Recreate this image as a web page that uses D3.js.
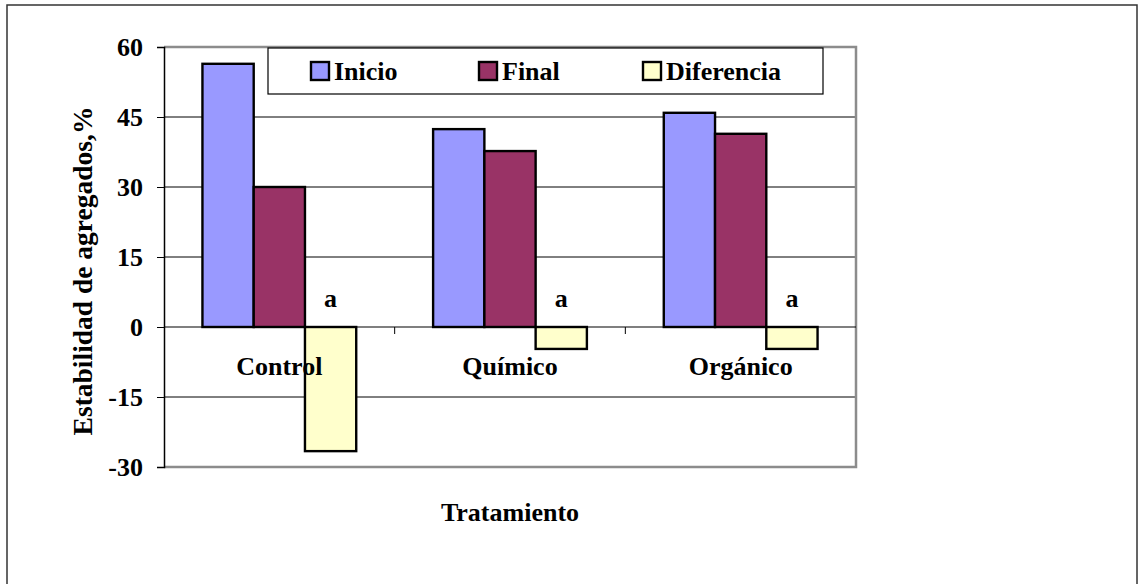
<!DOCTYPE html>
<html><head><meta charset="utf-8">
<script src="https://cdn.jsdelivr.net/npm/d3@7"></script>
<style>body{margin:0;background:#fff}svg{display:block}svg text{font-family:"Liberation Serif","Times New Roman",serif !important;font-weight:bold;fill:#000}</style>
</head><body>
<script>
const categories = ["Control", "Químico", "Orgánico"];
const seriesNames = ["Inicio", "Final", "Diferencia"];
const inicio = [56.4, 42.4, 45.9];
const finalV = [30.0, 37.7, 41.4];
const diferencia = [-26.6, -4.7, -4.7];
const letters = ["a", "a", "a"];
const yTicks = [-30, -15, 0, 15, 30, 45, 60];
const colors = ["#9999FF", "#993366", "#FFFFCC"];

const SERIF = "Liberation Serif";
const W = 1138, H = 584;
const svg = d3.select("body").append("svg").attr("width", W).attr("height", H);
svg.append("rect").attr("x", 7).attr("y", 5).attr("width", 1130).attr("height", 600)
  .attr("fill", "#fff").attr("stroke", "#333").attr("stroke-width", 1.5);

const L = 164, R = 856, T = 47, B = 467;
const y = d3.scaleLinear().domain([-30, 60]).range([B, T]);
const x0 = d3.scaleBand().domain(categories).range([L, R]);
const x1 = d3.scaleBand().domain(seriesNames).range([0, x0.bandwidth()]).paddingInner(0).paddingOuter(0.75);

// gridlines
svg.append("g").selectAll("line").data(yTicks.filter(d => d !== -30 && d !== 60 && d !== 0)).join("line")
  .attr("x1", L).attr("x2", R).attr("y1", d => y(d)).attr("y2", d => y(d)).attr("stroke", "#000").attr("stroke-width", 1);

// plot border (gray)
svg.append("path").attr("d", `M${L},${T}H${R}V${B}H${L}`).attr("fill", "none").attr("stroke", "#8c8c8c").attr("stroke-width", 2.5);

const data = [inicio, finalV, diferencia];
const g = svg.append("g");
seriesNames.forEach((s, si) => {
  g.selectAll(null).data(categories).join("rect")
    .attr("x", c => x0(c) + x1(s))
    .attr("width", x1.bandwidth())
    .attr("y", (c, i) => y(Math.max(0, data[si][i])))
    .attr("height", (c, i) => Math.abs(y(data[si][i]) - y(0)))
    .attr("fill", colors[si]).attr("stroke", "#000").attr("stroke-width", 2.4);
});

// zero axis
svg.append("line").attr("x1", L).attr("x2", R).attr("y1", y(0)).attr("y2", y(0)).attr("stroke", "#000").attr("stroke-width", 1.2);
// category ticks
svg.append("g").selectAll("line").data(categories.slice(1)).join("line")
  .attr("x1", c => x0(c)).attr("x2", c => x0(c)).attr("y1", y(0)).attr("y2", y(0) + 7).attr("stroke", "#000");

// y axis
const yAxis = d3.axisLeft(y).tickValues(yTicks).tickSize(7).tickPadding(14).tickFormat(d => String(d));
const ya = svg.append("g").attr("transform", `translate(${L},0)`).call(yAxis);
ya.attr("font-family", SERIF);
ya.select(".domain").attr("stroke", "#000").attr("stroke-width", 1.5);
ya.selectAll(".tick line").attr("stroke", "#000");
ya.selectAll(".tick text").attr("font-size", 26).attr("font-family", SERIF).attr("font-weight", "bold").attr("fill", "#000").attr("dy", "0.34em");

// letters
svg.append("g").selectAll("text").data(categories).join("text")
  .attr("x", c => x0(c) + x1("Diferencia") + x1.bandwidth() / 2).attr("y", 307)
  .attr("text-anchor", "middle").attr("font-family", SERIF).attr("font-size", 26).text((c, i) => letters[i]);

// category labels
svg.append("g").selectAll("text").data(categories).join("text")
  .attr("x", c => x0(c) + x0.bandwidth() / 2).attr("y", 375)
  .attr("text-anchor", "middle").attr("font-family", SERIF).attr("font-size", 26).text(c => c);

// axis titles
svg.append("text").attr("x", (L + R) / 2).attr("y", 521).attr("text-anchor", "middle").attr("font-family", SERIF).attr("font-size", 26).text("Tratamiento");
svg.append("text").attr("transform", "translate(92,271) rotate(-90)").attr("text-anchor", "middle").attr("font-family", SERIF).attr("font-size", 27.5).text("Estabilidad de agregados,%");

// legend
const lg = svg.append("g");
lg.append("rect").attr("x", 268).attr("y", 48).attr("width", 555).attr("height", 46).attr("fill", "#fff").attr("stroke", "#000").attr("stroke-width", 1.2);
const legX = [311, 479, 643];
seriesNames.forEach((s, i) => {
  lg.append("rect").attr("x", legX[i]).attr("y", 62).attr("width", 18).attr("height", 18)
    .attr("fill", colors[i]).attr("stroke", "#000").attr("stroke-width", 2.4);
  lg.append("text").attr("x", legX[i] + 23).attr("y", 80).attr("font-family", SERIF).attr("font-size", 26).text(s);
});
</script>
</body></html>
